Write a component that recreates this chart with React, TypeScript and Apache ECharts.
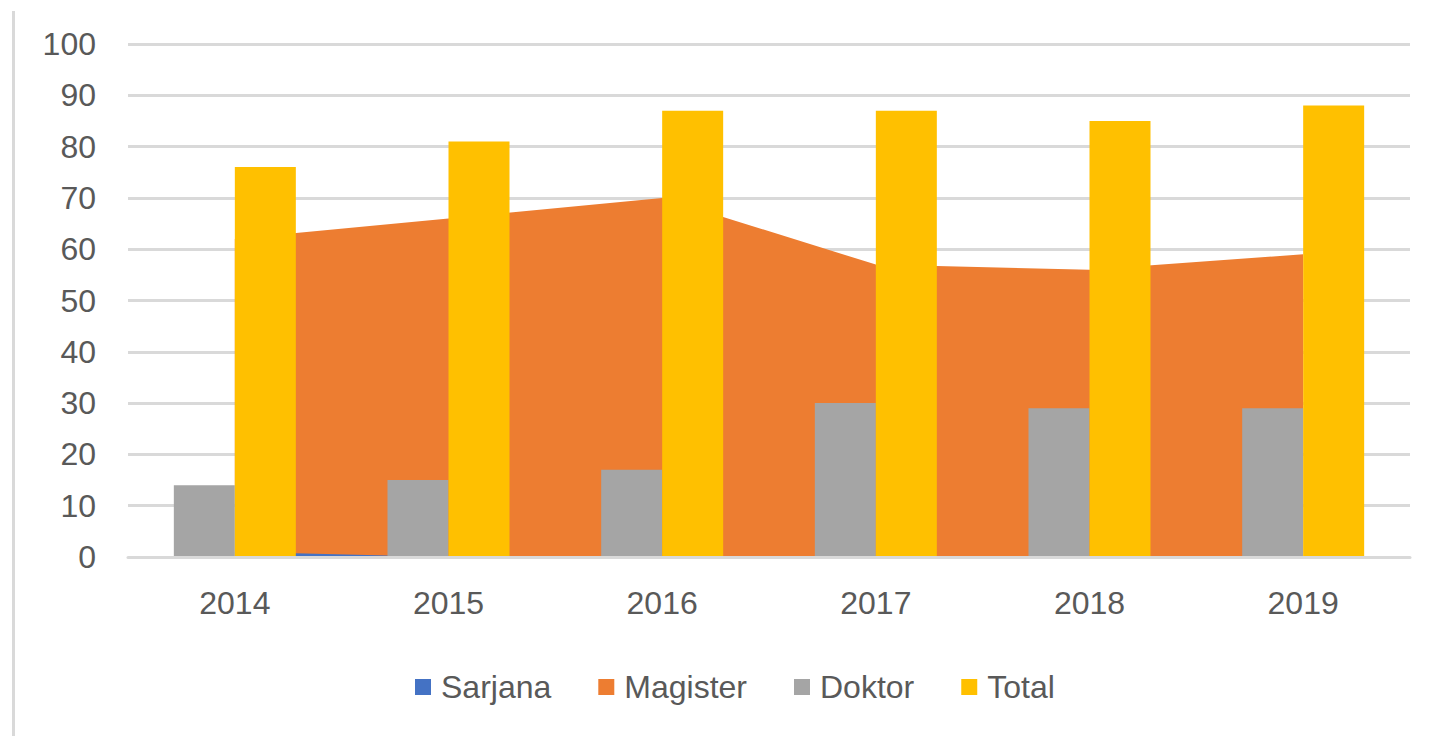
import React, { useEffect, useRef } from "react";
import * as echarts from "echarts";

const years = ["2014", "2015", "2016", "2017", "2018", "2019"];
const sarjana = [1, 0, 0, 0, 0, 0];
const magister = [62, 66, 70, 57, 56, 59];
const doktor = [14, 15, 17, 30, 29, 29];
const total = [76, 81, 87, 87, 85, 88];

const FONT = "'Liberation Sans', Arial, sans-serif";
const TEXT = "#595959";
const GRID = "#d9d9d9";

export default function App() {
  const ref = useRef<HTMLDivElement>(null);
  useEffect(() => {
    document.body.style.margin = "0";
    const chart = echarts.init(ref.current!, null, { renderer: "svg" });
    chart.setOption({
      animation: false,
      backgroundColor: "#ffffff",
      textStyle: { fontFamily: FONT },
      grid: { left: 128, right: 25, top: 44, bottom: 179 },
      legend: {
        left: 410,
        top: 666,
        itemWidth: 16,
        itemHeight: 16,
        itemGap: 47,
        icon: "rect",
        data: ["Sarjana", "Magister", "Doktor", "Total"],
        textStyle: { fontSize: 32, color: TEXT, fontFamily: FONT, padding: [0, 0, 0, 5] },
      },
      graphic: [
        { type: "rect", left: 12, top: 11, shape: { width: 3, height: 725 }, style: { fill: GRID }, silent: true },
      ],
      xAxis: {
        type: "category",
        data: years,
        boundaryGap: true,
        axisLine: { lineStyle: { color: GRID, width: 3 } },
        axisTick: { show: false },
        axisLabel: { fontSize: 32, color: TEXT, margin: 30, fontFamily: FONT },
        z: 5,
      },
      yAxis: {
        type: "value",
        min: 0,
        max: 100,
        interval: 10,
        axisLine: { show: false },
        axisTick: { show: false },
        axisLabel: { fontSize: 32, color: TEXT, margin: 32, fontFamily: FONT },
        splitLine: { lineStyle: { color: GRID, width: 3 } },
      },
      series: [
        {
          name: "Sarjana",
          type: "line",
          data: sarjana,
          symbol: "none",
          lineStyle: { width: 0 },
          areaStyle: { color: "#4472c4", opacity: 1 },
          itemStyle: { color: "#4472c4" },
          z: 3,
        },
        {
          name: "Magister",
          type: "line",
          data: magister,
          symbol: "none",
          lineStyle: { width: 0 },
          areaStyle: { color: "#ed7d31", opacity: 1 },
          itemStyle: { color: "#ed7d31" },
          z: 2,
        },
        {
          name: "Doktor",
          type: "bar",
          data: doktor,
          barWidth: 61,
          barGap: "0%",
          itemStyle: { color: "#a5a5a5" },
          z: 4,
        },
        {
          name: "Total",
          type: "bar",
          data: total,
          barWidth: 61,
          barGap: "0%",
          itemStyle: { color: "#ffc000" },
          z: 4,
        },
      ],
    });
    return () => chart.dispose();
  }, []);
  return <div ref={ref} style={{ width: 1435, height: 736, position: "absolute", left: 0, top: 0 }} />;
}
